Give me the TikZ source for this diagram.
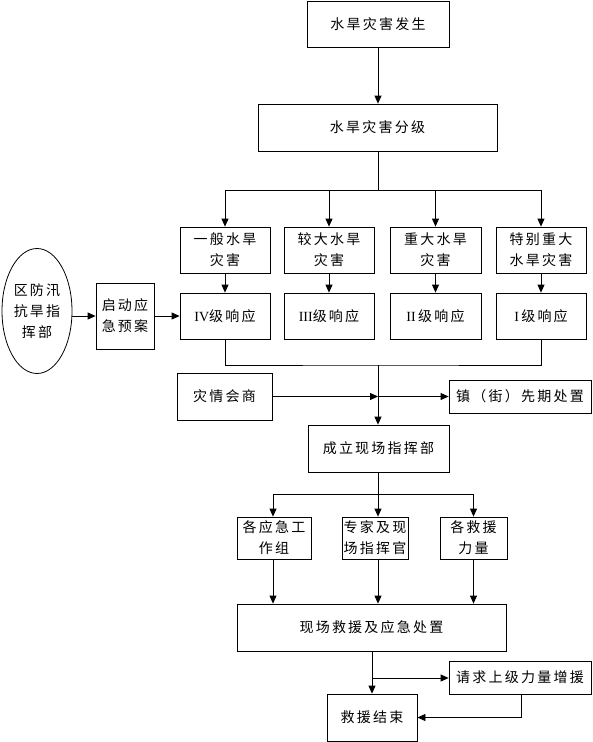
\documentclass[tikz,border=0pt]{standalone}
\usepackage{fontspec}
\setmainfont{Liberation Serif}
\newfontfamily\cjk[LetterSpace=16]{Noto Sans CJK SC}
\usetikzlibrary{arrows.meta,shapes.geometric}
\begin{document}
\begin{tikzpicture}[x=1pt,y=-1pt,
  every node/.style={font=\cjk\fontsize{14}{21}\selectfont,inner sep=0pt,align=center},
  box/.style={draw,line width=0.8pt,minimum width=#1},
  box/.default=90,
  arr/.style={line width=0.8pt,-{Triangle[length=8pt,width=7pt]}},
  ln/.style={line width=0.8pt}]
\useasboundingbox (0,0) rectangle (592,742);
% top
\node[box=142,minimum height=46] (b1) at (378,24) {水旱灾害发生};
\node[box=239,minimum height=47] (b2) at (377.5,127.5) {水旱灾害分级};
% row1
\node[box=90,minimum height=46] (r1a) at (225,250) {一般水旱\\灾害};
\node[box=90,minimum height=46] (r1b) at (329,250) {较大水旱\\灾害};
\node[box=91,minimum height=46] (r1c) at (435.5,250) {重大水旱\\灾害};
\node[box=90,minimum height=46] (r1d) at (541,250) {特别重大\\水旱灾害};
% row2
\node[box=90,minimum height=46] (r2a) at (225,316) {{\rmfamily IV}级响应};
\node[box=90,minimum height=46] (r2b) at (329,316) {{\rmfamily III}级响应};
\node[box=91,minimum height=46] (r2c) at (435.5,316) {{\rmfamily II\,}级响应};
\node[box=90,minimum height=46] (r2d) at (541,316) {{\rmfamily I\,}级响应};
% left
\node[draw,line width=0.8pt,ellipse,minimum width=70,minimum height=125] (hq) at (37,311) {区防汛\\抗旱指\\挥部};
\node[box=58,minimum height=66] (qd) at (125,316) {启动应\\急预案};
% middle
\node[box=95,minimum height=47] (zq) at (224.5,396.5) {灾情会商};
\node[box=142,minimum height=33] (zh) at (520,396.5) {镇（街）先期处置};
\node[box=141,minimum height=47] (cl) at (378.5,448.5) {成立现场指挥部};
% row3
\node[box=74,minimum height=42] (r3a) at (274,538) {各应急工\\作组};
\node[box=66,minimum height=42] (r3b) at (375,538) {专家及现\\场指挥官};
\node[box=67,minimum height=42] (r3c) at (473.5,538) {各救援\\力量};
% bottom
\node[box=269,minimum height=47] (big) at (371.5,627.5) {现场救援及应急处置};
\node[box=142,minimum height=33] (qq) at (520,677.5) {请求上级力量增援};
\node[box=90,minimum height=47] (jy) at (372,717.5) {救援结束};
% coordinates
\coordinate (s1) at (378,190);
\coordinate (m1) at (378,365);
\coordinate (m2) at (378,396.5);
\coordinate (s3) at (378,494);
\coordinate (s4) at (372,678);
% connectors
\draw[arr] (b1.south -| s1) -- (b2.north -| s1);
\draw[ln] (b2.south -| s1) -- (s1);
\foreach \n in {r1a,r1b,r1c,r1d}{
  \draw[arr] (s1) -| (\n.north);
  \draw[arr] (\n.south) -- (\n.south |- r2a.north);
}
\draw[ln] (r2a.south) |- (m1) -| (r2d.south);
\draw[arr] (m1) -- (cl.north -| m1);
\draw[arr] (zq.east) -- (m2);
\draw[arr] (m2) -- (zh.west);
\draw[arr] (hq.east |- qd.west) -- (qd.west);
\draw[arr] (qd.east) -- (r2a.west);
\draw[ln] (cl.south -| s3) -- (s3);
\draw[arr] (s3) -| ([xshift=-1pt]r3a.north);
\draw[arr] (s3) -- (r3b.north -| s3);
\draw[arr] (s3) -| (r3c.north);
\draw[arr] ([xshift=-1pt]r3a.south) -- ([xshift=-1pt]r3a.south |- big.north);
\draw[arr] (r3b.south -| s3) -- (big.north -| s3);
\draw[arr] (r3c.south) -- (r3c.south |- big.north);
\draw[arr] (big.south -| jy.north) -- (jy.north);
\draw[arr] (s4) -- (qq.west |- s4);
\draw[arr] ([xshift=1pt]qq.south) |- (jy.east);
\end{tikzpicture}
\end{document}
